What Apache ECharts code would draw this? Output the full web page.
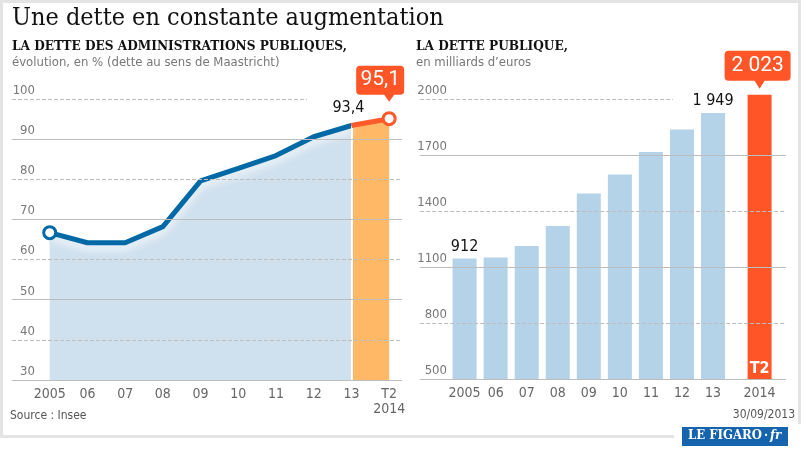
<!DOCTYPE html>
<html><head><meta charset="utf-8">
<script src="https://cdn.jsdelivr.net/npm/echarts@6/dist/echarts.min.js"></script>
<style>html,body{margin:0;padding:0;background:#fff}#c{width:805px;height:453px}</style>
</head><body><div id="c"></div>
<script>
// ---- data ----
const ratioYears = ['2005','06','07','08','09','10','11','12','13','T2\n2014'];
const ratioValues = [66.7, 64.2, 64.2, 68.2, 79.6, 82.7, 85.9, 90.6, 93.4, 95.1];
const ratioTicks = [30, 40, 50, 60, 70, 80, 90, 100];
const ratioPrevLabel = '93,4';
const ratioLastLabel = '95,1';

const debtYears = ['2005','06','07','08','09','10','11','12','13','2014'];
const debtPositions = [0, 1, 2, 3, 4, 5, 6, 7, 8, 9.5];
const debtValues = [1145, 1151, 1212, 1319, 1493, 1595, 1716, 1836, 1925, 2023];
const debtValueLabels = ['912', '', '', '', '', '', '', '', '1 949', ''];
const debtTicks = [500, 800, 1100, 1400, 1700, 2000];
const debtLastLabel = '2 023';
const debtLastPeriod = 'T2';

// ---- styles ----
const SANS = '"DejaVu Sans Condensed","DejaVu Sans",sans-serif';
const SERIF = '"DejaVu Serif Condensed","DejaVu Serif",serif';
const BLUE = '#0069a6', ORANGE = '#ff5527', GRID = '#bdbdbd';

function gridLines(ticks, x0, x1, xTopEnd) {
  return ticks.map((t, i) => [
    { coord: [x0, t], lineStyle: { type: i % 2 ? 'dashed' : 'solid', color: GRID, width: 1 } },
    { coord: [i === ticks.length - 1 ? xTopEnd : x1, t] }
  ]);
}

const chart = echarts.init(document.getElementById('c'), null, { renderer: 'canvas' });
const bubble = (w, h, p, px) =>
  `path://M4,0 H${w-4} Q${w},0 ${w},4 V${h-4} Q${w},${h} ${w-4},${h} H${px+5} L${px},${h+p} L${px-5},${h} H4 Q0,${h} 0,${h-4} V4 Q0,0 4,0 Z`;

const ratioPts = ratioValues.map((v, i) => [i, v]);
const lastI = ratioValues.length - 1;

const option = {
  animation: false,
  backgroundColor: '#fff',
  grid: [
    { left: 12, right: 403, top: 99, bottom: 73 },
    { left: 418, right: 19, top: 80.3, bottom: 74 }
  ],
  xAxis: [
    { type: 'value', gridIndex: 0, min: -1, max: 9.34, interval: 1,
      splitLine: { show: false }, axisTick: { show: false }, axisLine: { show: false },
      axisLabel: { margin: 7, color: '#666', fontSize: 14, fontFamily: SANS, lineHeight: 15,
        formatter: v => { const i = Math.round(v); return (Math.abs(v - i) < 1e-6 && i >= 0 && i < ratioYears.length) ? ratioYears[i] : ''; } } },
    { type: 'value', gridIndex: 1, min: -1.5, max: 10.35, interval: 0.5,
      splitLine: { show: false }, axisTick: { show: false }, axisLine: { show: false },
      axisLabel: { margin: 7, color: '#666', fontSize: 14, fontFamily: SANS,
        formatter: v => { const i = debtPositions.findIndex(p => Math.abs(p - v) < 1e-6); return i >= 0 ? debtYears[i] : ''; } } }
  ],
  yAxis: [
    { type: 'value', gridIndex: 0, min: 30, max: 100, interval: 10,
      splitLine: { show: false }, axisTick: { show: false }, axisLine: { show: false },
      axisLabel: { inside: true, align: 'right', margin: 23, verticalAlign: 'bottom', padding: [0, 0, 2, 0],
        color: '#777', fontSize: 13, fontFamily: SANS } },
    { type: 'value', gridIndex: 1, min: 500, max: 2100, interval: 300,
      splitLine: { show: false }, axisTick: { show: false }, axisLine: { show: false },
      axisLabel: { inside: true, align: 'right', margin: 29, verticalAlign: 'bottom', padding: [0, 0, 2, 0],
        showMaxLabel: false, color: '#777', fontSize: 13, fontFamily: SANS,
        formatter: v => debtTicks.includes(v) ? String(v) : '' } }
  ],
  series: [
    // blue area
    { type: 'line', xAxisIndex: 0, yAxisIndex: 0, z: 1, symbol: 'none', silent: true,
      data: ratioPts.slice(0, lastI), lineStyle: { width: 0 }, areaStyle: { color: '#cfe0ee', opacity: 1 } },
    // orange area
    { type: 'line', xAxisIndex: 0, yAxisIndex: 0, z: 1, symbol: 'none', silent: true,
      data: ratioPts.slice(lastI - 1), lineStyle: { width: 0 }, areaStyle: { color: '#ffb866', opacity: 1 },
      markLine: { silent: true, symbol: ['none', 'none'], label: { show: false },
        data: [[{ coord: [lastI - 1, 30], lineStyle: { color: '#fff', width: 2, type: 'solid' } }, { coord: [lastI - 1, ratioValues[lastI - 1]] }]] } },
    // left grid lines
    { type: 'line', xAxisIndex: 0, yAxisIndex: 0, z: 2, symbol: 'none', silent: true,
      data: [[0, 30]], lineStyle: { opacity: 0 },
      markLine: { silent: true, symbol: ['none', 'none'], label: { show: false }, data: gridLines(ratioTicks, -1, 9.34, 6.82) } },
    // blue line
    { type: 'line', xAxisIndex: 0, yAxisIndex: 0, z: 4, symbol: 'none',
      lineStyle: { color: BLUE, width: 5, shadowColor: 'rgba(255,255,255,0.95)', shadowBlur: 8, shadowOffsetY: 4 },
      itemStyle: { color: BLUE },
      data: ratioPts.slice(0, lastI).map((p, i) => {
        if (i === 0) return { value: p, symbol: 'circle', symbolSize: 12, itemStyle: { color: '#fff', borderColor: BLUE, borderWidth: 3 } };
        if (i === lastI - 1) return { value: p, symbol: 'circle', symbolSize: 1, itemStyle: { color: BLUE },
          label: { show: true, position: 'top', distance: 9, offset: [-3, 0], formatter: ratioPrevLabel, color: '#111', fontSize: 16, fontFamily: SANS } };
        return { value: p };
      }) },
    // orange line
    { type: 'line', xAxisIndex: 0, yAxisIndex: 0, z: 5, symbol: 'none',
      lineStyle: { color: '#ff5a2a', width: 5 },
      data: ratioPts.slice(lastI - 1).map((p, i) => i === 1
        ? { value: p, symbol: 'circle', symbolSize: 12, itemStyle: { color: '#fff', borderColor: '#ff5a2a', borderWidth: 3 } }
        : { value: p }),
      markPoint: { silent: true, data: [{ coord: ratioPts[lastI], value: ratioLastLabel,
        symbol: bubble(48, 29, 7, 33), symbolSize: [48, 36], symbolKeepAspect: false, symbolOffset: [-9, -35],
        itemStyle: { color: ORANGE },
        label: { show: true, position: 'inside', offset: [0, -4], formatter: ratioLastLabel, color: '#fff', fontSize: 21, fontFamily: '"Roboto",sans-serif' } }] } },
    // right grid lines
    { type: 'line', xAxisIndex: 1, yAxisIndex: 1, z: 0, symbol: 'none', silent: true,
      data: [[0, 500]], lineStyle: { opacity: 0 },
      markLine: { silent: true, symbol: ['none', 'none'], label: { show: false }, data: gridLines(debtTicks, -1.43, 10.35, 6.71) } },
    // bars
    { type: 'bar', xAxisIndex: 1, yAxisIndex: 1, z: 2, barWidth: 24,
      data: debtValues.map((v, i) => {
        const item = { value: [debtPositions[i], v], itemStyle: { color: i === debtValues.length - 1 ? ORANGE : '#b4d2e8' } };
        if (debtValueLabels[i]) item.label = { show: true, position: 'top', distance: 4, formatter: debtValueLabels[i], color: '#111', fontSize: 16, fontFamily: SANS };
        if (i === debtValues.length - 1) item.label = { show: true, position: 'insideBottom', distance: 2, formatter: debtLastPeriod, color: '#fff', fontSize: 16, fontWeight: 'bold', fontFamily: SANS };
        return item;
      }),
      markPoint: { silent: true, data: [{ coord: [debtPositions[debtPositions.length - 1], debtValues[debtValues.length - 1]], value: debtLastLabel,
        symbol: bubble(66, 30, 8, 35), symbolSize: [66, 38], symbolKeepAspect: false, symbolOffset: [-2, -25],
        itemStyle: { color: ORANGE },
        label: { show: true, position: 'inside', offset: [0, -4], formatter: debtLastLabel, color: '#fff', fontSize: 21, fontFamily: '"Roboto",sans-serif' } }] } }
  ],
  graphic: [
    { type: 'rect', z: -10, silent: true, shape: { x: 1.5, y: 1.5, width: 798, height: 435 }, style: { fill: '#fff', stroke: '#e4e4e4', lineWidth: 3 } },
    { type: 'rect', z: -5, silent: true, shape: { x: 674, y: 424, width: 131, height: 29 }, style: { fill: '#fff' } },
    { type: 'text', left: 12, top: 6, style: { text: 'Une dette en constante augmentation', font: '25px ' + SERIF, fill: '#111' } },
    { type: 'text', left: 12, top: 39, style: { text: 'LA DETTE DES ADMINISTRATIONS PUBLIQUES,', font: 'bold 13.5px ' + SERIF, fill: '#111' } },
    { type: 'text', left: 12, top: 56, style: { text: 'évolution, en % (dette au sens de Maastricht)', font: '13px ' + SANS, fill: '#777' } },
    { type: 'text', left: 416, top: 39, style: { text: 'LA DETTE PUBLIQUE,', font: 'bold 13.5px ' + SERIF, fill: '#111' } },
    { type: 'text', left: 416, top: 56, style: { text: 'en milliards d\u2019euros', font: '13px ' + SANS, fill: '#777' } },
    { type: 'text', left: 10, top: 410, style: { text: 'Source : Insee', font: '12px ' + SANS, fill: '#555' } },
    { type: 'text', right: 10, top: 409, style: { text: '30/09/2013', font: '12px ' + SANS, fill: '#555' } },
    { type: 'rect', silent: true, shape: { x: 682, y: 427, width: 106, height: 19 }, style: { fill: '#1764ae' } },
    { type: 'text', left: 688, top: 429, style: { text: '{a|LE FIGARO}{b|\u00b7}{c|fr}', fill: '#fff',
      rich: { a: { font: 'bold 13px ' + SERIF, fill: '#fff' }, b: { font: 'bold 13px ' + SERIF, fill: '#fff', padding: [0, 2] }, c: { font: 'italic bold 13px ' + SERIF, fill: '#fff' } } } }
  ]
};
chart.setOption(option);
</script>
</body></html>
